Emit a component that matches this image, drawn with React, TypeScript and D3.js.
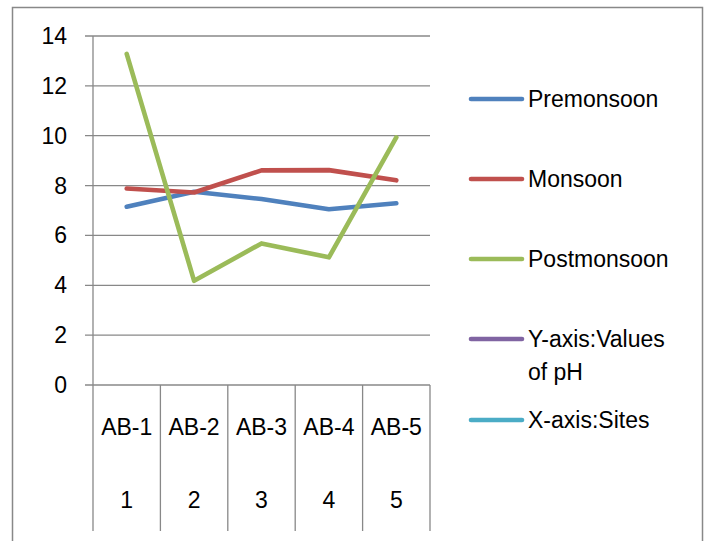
import { useRef, useEffect } from 'react'
import * as d3 from 'd3'

// values of pH
const sites = ['AB-1', 'AB-2', 'AB-3', 'AB-4', 'AB-5']
const siteNumbers = ['1', '2', '3', '4', '5']
const premonsoon = [7.15, 7.75, 7.46, 7.05, 7.29]
const monsoon = [7.88, 7.72, 8.61, 8.62, 8.21]
const postmonsoon = [13.28, 4.18, 5.68, 5.12, 9.93]
const yTicks = [0, 2, 4, 6, 8, 10, 12, 14]

const legendItems = [
  { label: ['Premonsoon'], color: '#4F81BD' },
  { label: ['Monsoon'], color: '#C0504D' },
  { label: ['Postmonsoon'], color: '#9BBB59' },
  { label: ['Y-axis:Values', 'of pH'], color: '#8064A2' },
  { label: ['X-axis:Sites'], color: '#4BACC6' },
]

const W = 708
const H = 541
const FONT = '"Liberation Sans", Arial, sans-serif'

function App() {
  const svgRef = useRef<SVGSVGElement | null>(null)

  useEffect(() => {
    if (!svgRef.current) return
    const svg = d3.select(svgRef.current)
    svg.selectAll('*').remove()

    const left = 93
    const right = 430
    const top = 36
    const bottom = 385
    const grid = '#888888'

    // outer frame
    svg.append('rect')
      .attr('x', 12.5).attr('y', 7.5)
      .attr('width', 690).attr('height', 600)
      .attr('fill', '#fff')
      .attr('stroke', grid)
      .attr('stroke-width', 1.5)

    const x = d3.scaleBand().domain(sites).range([left, right])
    const y = d3.scaleLinear().domain([0, 14]).range([bottom, top])

    // horizontal gridlines + tick marks
    svg.append('g').selectAll('line')
      .data(yTicks)
      .join('line')
      .attr('x1', left - 8).attr('x2', right)
      .attr('y1', d => y(d)).attr('y2', d => y(d))
      .attr('stroke', grid).attr('stroke-width', 1.3)

    svg.append('g').selectAll('text')
      .data(yTicks)
      .join('text')
      .attr('x', 67).attr('y', d => y(d))
      .attr('text-anchor', 'end')
      .attr('dominant-baseline', 'central')
      .attr('font-family', FONT).attr('font-size', 23)
      .attr('fill', '#000')
      .text(d => d)

    // y axis line
    svg.append('line')
      .attr('x1', left).attr('x2', left)
      .attr('y1', top).attr('y2', bottom)
      .attr('stroke', grid).attr('stroke-width', 1.3)

    // category dividers
    const edges = sites.map(s => x(s) as number).concat([right])
    svg.append('g').selectAll('line')
      .data(edges)
      .join('line')
      .attr('x1', d => d).attr('x2', d => d)
      .attr('y1', bottom).attr('y2', 531)
      .attr('stroke', grid).attr('stroke-width', 1.3)

    const cx = (s: string) => (x(s) as number) + x.bandwidth() / 2

    svg.append('g').selectAll('text')
      .data(sites)
      .join('text')
      .attr('x', d => cx(d)).attr('y', 427)
      .attr('text-anchor', 'middle')
      .attr('dominant-baseline', 'central')
      .attr('font-family', FONT).attr('font-size', 23)
      .text(d => d)

    svg.append('g').selectAll('text')
      .data(siteNumbers)
      .join('text')
      .attr('x', (_, i) => cx(sites[i])).attr('y', 500)
      .attr('text-anchor', 'middle')
      .attr('dominant-baseline', 'central')
      .attr('font-family', FONT).attr('font-size', 23)
      .text(d => d)

    // series lines
    const line = d3.line<number>()
      .x((_, i) => cx(sites[i]))
      .y(d => y(d))

    const series = [
      { values: premonsoon, color: legendItems[0].color },
      { values: monsoon, color: legendItems[1].color },
      { values: postmonsoon, color: legendItems[2].color },
    ]
    series.forEach(s => {
      svg.append('path')
        .datum(s.values)
        .attr('d', line)
        .attr('fill', 'none')
        .attr('stroke', s.color)
        .attr('stroke-width', 4.6)
        .attr('stroke-linecap', 'round')
        .attr('stroke-linejoin', 'round')
    })

    // legend
    const legendY = [99, 179, 259, 339, 420]
    legendItems.forEach((item, i) => {
      const g = svg.append('g').attr('transform', `translate(0,${legendY[i]})`)
      g.append('line')
        .attr('x1', 471).attr('x2', 522)
        .attr('y1', 0).attr('y2', 0)
        .attr('stroke', item.color)
        .attr('stroke-width', 4.6)
        .attr('stroke-linecap', 'round')
      item.label.forEach((t, j) => {
        g.append('text')
          .attr('x', 528).attr('y', j * 33)
          .attr('dominant-baseline', 'central')
          .attr('font-family', FONT).attr('font-size', 23)
          .text(t)
      })
    })
  }, [])

  return (
    <svg
      ref={svgRef}
      width={W}
      height={H}
      style={{ position: 'absolute', left: 0, top: 0, background: '#fff' }}
    />
  )
}

export default App
